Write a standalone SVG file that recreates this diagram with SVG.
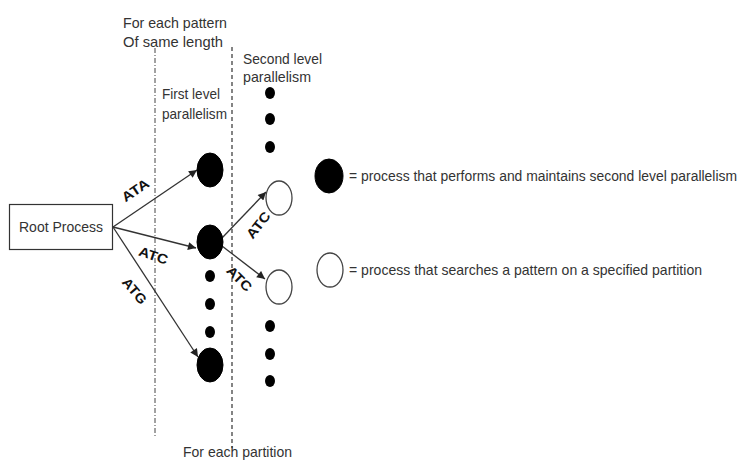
<svg xmlns="http://www.w3.org/2000/svg" width="746" height="462" viewBox="0 0 746 462">
<style>
text{font-family:"Liberation Sans",Arial,sans-serif;fill:#333;}
.t{font-size:15px;}
.leg{font-size:13.8px;}
.lbl{font-size:13.5px;font-weight:bold;fill:#111;}
.conn{stroke:#333;stroke-width:1.3;fill:none;}
.filled{fill:#000;stroke:#000;}
.open{fill:#fff;stroke:#444;stroke-width:1.3;}
.dot{fill:#000;}
</style>
<defs>
<marker id="ah" viewBox="0 0 10 10" refX="10" refY="5" markerWidth="10" markerHeight="8" markerUnits="userSpaceOnUse" orient="auto">
<path d="M0,0 L10,5 L0,10 z" fill="#222"/>
</marker>
</defs>
<rect width="746" height="462" fill="#fff"/>

<g id="guides">
<line x1="155" y1="48" x2="155" y2="437" stroke="#444" stroke-width="1" stroke-dasharray="5 2 1 2"/>
<line x1="232" y1="47" x2="232" y2="448" stroke="#333" stroke-width="1.2" stroke-dasharray="4 3"/>
<text class="t" x="123" y="28" textLength="104" lengthAdjust="spacingAndGlyphs">For each pattern</text>
<text class="t" x="123" y="47" textLength="100" lengthAdjust="spacingAndGlyphs">Of same length</text>
<text class="t" x="243" y="64" textLength="79" lengthAdjust="spacingAndGlyphs">Second level</text>
<text class="t" x="243" y="82" textLength="68" lengthAdjust="spacingAndGlyphs">parallelism</text>
<text class="t" x="162" y="99" textLength="58" lengthAdjust="spacingAndGlyphs">First level</text>
<text class="t" x="162" y="119" textLength="65" lengthAdjust="spacingAndGlyphs">parallelism</text>
<text class="t" x="183" y="457" textLength="109" lengthAdjust="spacingAndGlyphs">For each partition</text>
</g>

<g id="connectors">
<line class="conn" x1="113" y1="227" x2="197" y2="170" marker-end="url(#ah)"/>
<line class="conn" x1="113" y1="227" x2="196" y2="248" marker-end="url(#ah)"/>
<line class="conn" x1="113" y1="227" x2="198" y2="357" marker-end="url(#ah)"/>
<line class="conn" x1="222" y1="238" x2="266" y2="192" marker-end="url(#ah)"/>
<line class="conn" x1="222" y1="246" x2="265" y2="279" marker-end="url(#ah)"/>
<text class="lbl" transform="translate(138,194) rotate(-34)" text-anchor="middle" textLength="30" lengthAdjust="spacingAndGlyphs">ATA</text>
<text class="lbl" transform="translate(152,260) rotate(18)" text-anchor="middle" textLength="30" lengthAdjust="spacingAndGlyphs">ATC</text>
<text class="lbl" transform="translate(131,294) rotate(50)" text-anchor="middle" textLength="30" lengthAdjust="spacingAndGlyphs">ATG</text>
<text class="lbl" transform="translate(262,228) rotate(-52)" text-anchor="middle" textLength="30" lengthAdjust="spacingAndGlyphs">ATC</text>
<text class="lbl" transform="translate(236,282) rotate(45)" text-anchor="middle" textLength="30" lengthAdjust="spacingAndGlyphs">ATC</text>
</g>

<g id="root">
<rect x="9.5" y="204.5" width="103" height="45" fill="#fff" stroke="#333" stroke-width="1.2"/>
<text class="t" x="61" y="232" text-anchor="middle" textLength="84" lengthAdjust="spacingAndGlyphs">Root Process</text>
</g>

<g id="p1"><ellipse class="filled" cx="210" cy="170" rx="13" ry="17"/></g>
<g id="p2"><ellipse class="filled" cx="210" cy="242" rx="13" ry="17"/></g>
<g id="p3"><ellipse class="filled" cx="210" cy="365" rx="13" ry="17"/></g>
<g id="s1"><ellipse class="open" cx="279" cy="198" rx="13" ry="17"/></g>
<g id="s2"><ellipse class="open" cx="279" cy="287" rx="13" ry="17"/></g>

<g id="dots">
<ellipse class="dot" cx="210" cy="276" rx="5" ry="6"/>
<ellipse class="dot" cx="210" cy="304" rx="5" ry="6"/>
<ellipse class="dot" cx="210" cy="332" rx="5" ry="6"/>
<ellipse class="dot" cx="270" cy="93" rx="5" ry="6"/>
<ellipse class="dot" cx="270" cy="119" rx="5" ry="6"/>
<ellipse class="dot" cx="270" cy="147" rx="5" ry="6"/>
<ellipse class="dot" cx="270" cy="326" rx="5" ry="6"/>
<ellipse class="dot" cx="270" cy="354" rx="5" ry="6"/>
<ellipse class="dot" cx="270" cy="381" rx="5" ry="6"/>
</g>

<g id="legend-filled">
<ellipse class="filled" cx="329" cy="176" rx="14" ry="17"/>
<text class="t leg" x="349" y="181" textLength="388" lengthAdjust="spacingAndGlyphs">= process that performs and maintains second level parallelism</text>
</g>
<g id="legend-open">
<ellipse class="open" cx="330" cy="270" rx="13" ry="17"/>
<text class="t" x="349" y="275" textLength="353" lengthAdjust="spacingAndGlyphs">= process that searches a pattern on a specified partition</text>
</g>
</svg>
